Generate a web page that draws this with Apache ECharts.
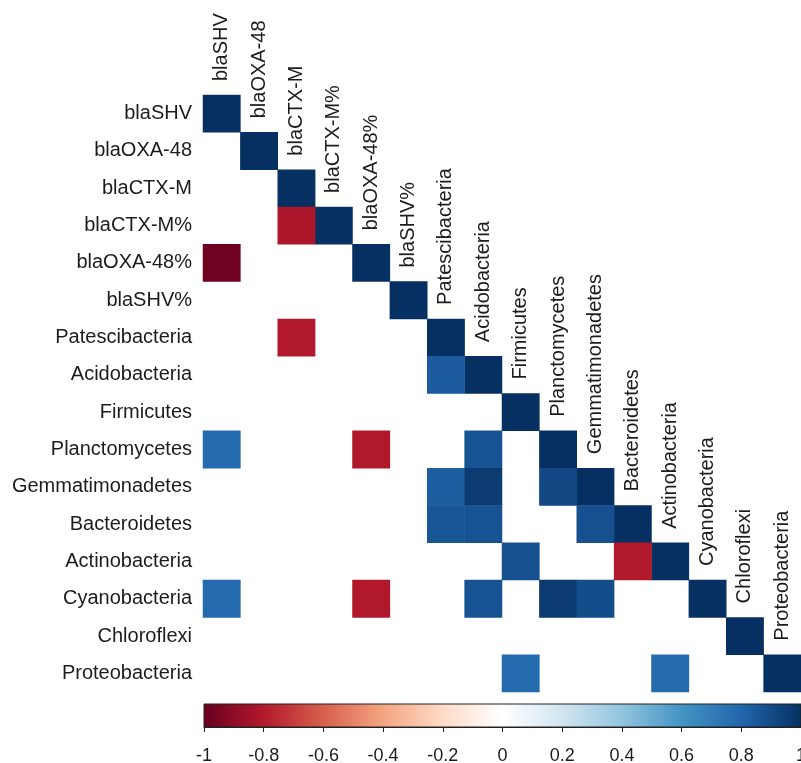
<!DOCTYPE html>
<html>
<head>
<meta charset="utf-8">
<script src="https://cdn.jsdelivr.net/npm/echarts@6/dist/echarts.min.js"></script>
<style>
  html, body { margin: 0; padding: 0; background: #fff; }
  #chart { width: 801px; height: 763px; }
</style>
</head>
<body>
<div id="chart"></div>
<script>
// Variables of the correlation matrix (same order on both axes)
const variables = [
  'blaSHV', 'blaOXA-48', 'blaCTX-M', 'blaCTX-M%', 'blaOXA-48%', 'blaSHV%',
  'Patescibacteria', 'Acidobacteria', 'Firmicutes', 'Planctomycetes',
  'Gemmatimonadetes', 'Bacteroidetes', 'Actinobacteria', 'Cyanobacteria',
  'Chloroflexi', 'Proteobacteria'
];

// Significant off-diagonal correlations in the lower triangle: [row, column, r]
const significantPairs = [
  [3, 2, -0.82],
  [4, 0, -0.98],
  [6, 2, -0.80],
  [7, 6, 0.84],
  [9, 0, 0.78],
  [9, 4, -0.80],
  [9, 7, 0.87],
  [10, 6, 0.83],
  [10, 7, 0.96],
  [10, 9, 0.91],
  [11, 6, 0.86],
  [11, 7, 0.87],
  [11, 10, 0.88],
  [12, 8, 0.88],
  [12, 11, -0.80],
  [13, 0, 0.78],
  [13, 4, -0.80],
  [13, 7, 0.87],
  [13, 9, 0.96],
  [13, 10, 0.89],
  [15, 8, 0.78],
  [15, 12, 0.78]
];

// Diverging red-white-blue palette, evenly spaced from -1 to 1
const palette = [
  '#67001F', '#B2182B', '#D6604D', '#F4A582', '#FDDBC7', '#FFFFFF',
  '#D1E5F0', '#92C5DE', '#4393C3', '#2166AC', '#053061'
];

// Colour key range and tick step
const keyMin = -1;
const keyMax = 1;
const keyStep = 0.2;

const labelFont = 'Liberation Sans, Arial, sans-serif';
const textColor = '#1c1c1c';

// Heatmap cells: diagonal (r = 1) plus the significant pairs, as [col, row, r]
const cells = variables.map((v, i) => [i, i, 1])
  .concat(significantPairs.map(p => [p[1], p[0], p[2]]));

const chart = echarts.init(document.getElementById('chart'), null, { renderer: 'canvas' });

const keyGradient = {
  type: 'linear', x: 0, y: 0, x2: 1, y2: 0,
  colorStops: palette.map((c, i) => ({ offset: i / (palette.length - 1), color: c }))
};

chart.setOption({
  backgroundColor: '#ffffff',
  animation: false,
  grid: [
    {
      left: 203, top: 95, width: 598, height: 597, show: false,
      containLabel: false, outerBoundsMode: 'none'
    },
    {
      left: 204, top: 704, width: 597, height: 23, show: true,
      backgroundColor: keyGradient, borderColor: '#222', borderWidth: 1,
      containLabel: false, outerBoundsMode: 'none'
    }
  ],
  xAxis: [
    {
      gridIndex: 0, type: 'category', data: variables,
      axisLine: { show: false }, axisTick: { show: false },
      axisLabel: { show: false }, splitLine: { show: false }
    },
    {
      gridIndex: 1, type: 'value', min: keyMin, max: keyMax, interval: keyStep,
      position: 'bottom',
      axisLine: { show: true, lineStyle: { color: '#222', width: 1 } },
      axisTick: { show: true, length: 5, lineStyle: { color: '#222' } },
      splitLine: { show: false },
      axisLabel: {
        show: true, fontSize: 18, fontFamily: labelFont, color: textColor, margin: 20,
        hideOverlap: false,
        formatter: v => String(Math.round(v * 10) / 10)
      }
    }
  ],
  yAxis: [
    {
      gridIndex: 0, type: 'category', data: variables, inverse: true,
      axisLine: { show: false }, axisTick: { show: false }, splitLine: { show: false },
      axisLabel: { show: true, fontSize: 20, fontFamily: labelFont, color: textColor, margin: 11 }
    },
    {
      gridIndex: 1, type: 'value', min: 0, max: 1, show: false
    }
  ],
  visualMap: {
    show: false, type: 'continuous', min: keyMin, max: keyMax,
    dimension: 2, seriesIndex: 0,
    inRange: { color: palette }
  },
  series: [
    {
      type: 'heatmap', xAxisIndex: 0, yAxisIndex: 0, data: cells,
      itemStyle: { borderWidth: 0 },
      emphasis: { disabled: true }
    },
    {
      // Column names written vertically just above each diagonal cell
      type: 'custom', xAxisIndex: 0, yAxisIndex: 0,
      data: variables.map((v, i) => [i, i]),
      renderItem: (params, api) => {
        const i = api.value(0);
        const pt = api.coord([i, i]);
        const size = api.size([1, 1]);
        return {
          type: 'text',
          x: pt[0],
          y: pt[1] - size[1] / 2 - 14,
          rotation: Math.PI / 2,
          style: {
            text: variables[i],
            fontSize: 20,
            fontFamily: labelFont,
            fill: textColor,
            align: 'left',
            verticalAlign: 'middle'
          }
        };
      }
    }
  ]
});
</script>
</body>
</html>
